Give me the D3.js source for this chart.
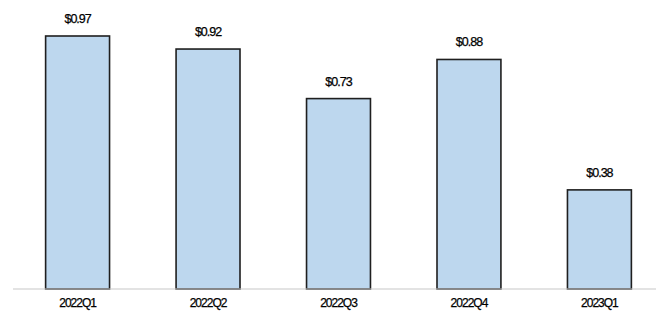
<!DOCTYPE html>
<html>
<head>
<meta charset="utf-8">
<script src="https://cdn.jsdelivr.net/npm/d3@7"></script>
<style>
  html, body { margin: 0; padding: 0; background: #fff; }
  svg { display: block; }
  text { font-family: "Liberation Sans", Arial, sans-serif; fill: #000; }
</style>
</head>
<body>
<svg id="chart" width="669" height="320"></svg>
<script>
// Quarterly values per share
const quarters = ["2022Q1", "2022Q2", "2022Q3", "2022Q4", "2023Q1"];
const values = [0.97, 0.92, 0.73, 0.88, 0.38];

const svg = d3.select("#chart");
const baseY = 289;

const x = d3.scaleBand()
  .domain(quarters)
  .range([13, 664])
  .paddingInner(0.51)
  .paddingOuter(0.25);

const y = d3.scaleLinear()
  .domain([0, 0.97])
  .range([baseY, 36]);

// bars
svg.append("g")
  .selectAll("rect")
  .data(values)
  .join("rect")
  .attr("x", (d, i) => x(quarters[i]))
  .attr("y", d => y(d))
  .attr("width", x.bandwidth())
  .attr("height", d => baseY - y(d))
  .attr("fill", "#bdd7ee")
  .attr("stroke", "#1f1f1f")
  .attr("stroke-width", 1.6);

// baseline axis
const xAxis = d3.axisBottom(x).tickSize(0).tickPadding(9);
const gx = svg.append("g")
  .attr("transform", `translate(0,${baseY})`)
  .call(xAxis);
gx.select(".domain").remove();
gx.append("line")
  .attr("x1", 13).attr("x2", 656)
  .attr("y1", 0).attr("y2", 0)
  .attr("stroke", "#c8c8c8")
  .attr("stroke-width", 1.2);
gx.selectAll(".tick text")
  .attr("font-size", 12)
  .attr("letter-spacing", "-1px")
  .attr("fill", "#000")
  .attr("stroke", "#000")
  .attr("stroke-width", 0.25)
  .style("font-family", "'Liberation Sans', Arial, sans-serif");

// value labels
svg.append("g")
  .selectAll("text")
  .data(values)
  .join("text")
  .attr("x", (d, i) => x(quarters[i]) + x.bandwidth() / 2)
  .attr("y", d => y(d) - 13)
  .attr("text-anchor", "middle")
  .attr("font-size", 12.5)
  .attr("letter-spacing", "-1px")
  .attr("stroke", "#000")
  .attr("stroke-width", 0.25)
  .text(d => "$" + d.toFixed(2));
</script>
</body>
</html>
